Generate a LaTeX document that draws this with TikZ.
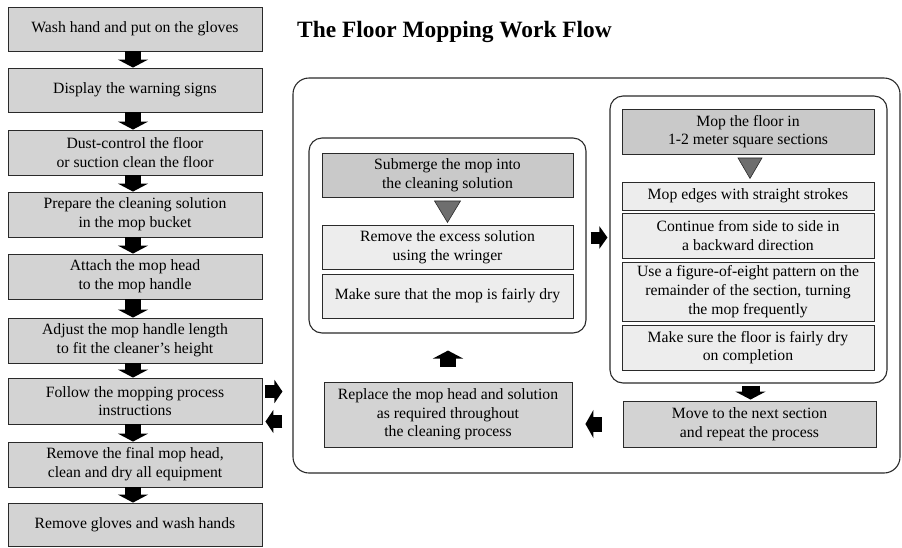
\documentclass[tikz,border=0pt]{standalone}
\usepackage{fontspec}
\setmainfont{Liberation Serif}
\usetikzlibrary{arrows.meta,calc}
\definecolor{gmid}{HTML}{D3D3D3}
\definecolor{gdark}{HTML}{C9C9C9}
\definecolor{glight}{HTML}{EDEDED}
\definecolor{gtri}{HTML}{6E6E6E}
\definecolor{edge}{HTML}{2A2A2A}
\begin{document}
\begin{tikzpicture}[x=1pt,y=-1pt,
  every node/.style={font=\fontsize{15.7}{18.7}\selectfont, align=center, inner sep=0pt},
  sbox/.style={draw=edge, line width=0.9pt, fill=gmid},
  dbox/.style={draw=edge, line width=0.9pt, fill=gdark},
  lbox/.style={draw=edge, line width=0.9pt, fill=glight},
  rbox/.style={draw=edge, line width=1.1pt, rounded corners=13pt},
  tri/.style={fill=gtri, draw=edge, line width=0.6pt},
  barrow/.style={draw=black, line width=16pt, -{Triangle[width=30pt,length=8pt]}},
  sarrow/.style={draw=black, line width=13pt, -{Triangle[width=23pt,length=8pt]}},
]
\useasboundingbox (0,0) rectangle (902,547);

% title
\node[font=\fontsize{23.4}{27}\selectfont\bfseries, anchor=base west] (title) at (297,37) {The Floor Mopping Work Flow};

% left column
\node[sbox, minimum width=254, minimum height=44] (b1) at (135,29) {Wash hand and put on the gloves};
\node[sbox, minimum width=254, minimum height=44] (b2) at (135,90) {Display the warning signs};
\node[sbox, minimum width=254, minimum height=45] (b3) at (135,152.5) {Dust-control the floor\\or suction clean the floor};
\node[sbox, minimum width=254, minimum height=45] (b4) at (135,214.5) {Prepare the cleaning solution\\in the mop bucket};
\node[sbox, minimum width=254, minimum height=45] (b5) at (135,276.5) {Attach the mop head\\to the mop handle};
\node[sbox, minimum width=254, minimum height=45] (b6) at (135,340.5) {Adjust the mop handle length\\to fit the cleaner’s height};
\node[sbox, minimum width=254, minimum height=46] (b7) at (135,401) {Follow the mopping process\\instructions};
\node[sbox, minimum width=254, minimum height=45] (b8) at (135,464.5) {Remove the final mop head,\\clean and dry all equipment};
\node[sbox, minimum width=254, minimum height=43] (b9) at (135,524.5) {Remove gloves and wash hands};

\foreach \a/\b in {b1/b2,b2/b3,b3/b4,b4/b5,b5/b6,b6/b7,b7/b8,b8/b9}{
  \draw[barrow] ([xshift=-2]\a.south) -- ([xshift=-2]\b.north);
}

% outer frame
\node[rbox, minimum width=607, minimum height=395, rounded corners=16pt] (outer) at (596.5,275.5) {};

% left inner group
\node[rbox, minimum width=277, minimum height=195] (linner) at (447.5,235.5) {};
\node[dbox, minimum width=251, minimum height=44] (sub) at (447.5,175) {Submerge the mop into\\the cleaning solution};
\node[lbox, minimum width=251, minimum height=44] (rem) at (447.5,247) {Remove the excess solution\\using the wringer};
\node[lbox, minimum width=251, minimum height=44] (dry) at (447.5,296) {Make sure that the mop is fairly dry};
\filldraw[tri] ($(sub.south)+(-13,3.5)$) -- ($(sub.south)+(13,3.5)$) -- ($(sub.south)+(0,25)$) -- cycle;

% right inner group
\node[rbox, minimum width=277, minimum height=287] (rinner) at (748.5,239.5) {};
\node[dbox, minimum width=252, minimum height=45] (mopf) at (748,131.5) {Mop the floor in\\1-2 meter square sections};
\node[lbox, minimum width=252, minimum height=28] (edges) at (748,196) {Mop edges with straight strokes};
\node[lbox, minimum width=252, minimum height=45] (cont) at (748,235.5) {Continue from side to side in\\a backward direction};
\node[lbox, minimum width=252, minimum height=59] (fig) at (748,291.5) {Use a figure-of-eight pattern on the\\remainder of the section, turning\\the mop frequently};
\node[lbox, minimum width=252, minimum height=45] (drf) at (748,347.5) {Make sure the floor is fairly dry\\on completion};
\filldraw[tri] ($(mopf.south)+(-10,3.5)$) -- ($(mopf.south)+(14,3.5)$) -- ($(mopf.south)+(2,24)$) -- cycle;

% bottom row
\node[sbox, minimum width=253, minimum height=46] (move) at (749.5,424) {Move to the next section\\and repeat the process};
\node[sbox, minimum width=248, minimum height=65] (repl) at (448,414.5) {Replace the mop head and solution\\as required throughout\\the cleaning process};

% block arrows in the frame
\draw[sarrow, line width=12pt, -{Triangle[width=22pt,length=8pt]}] ($(linner.east)+(4,2)$) -- ($(rinner.west |- linner.east)+(-2,2)$);
\draw[barrow, line width=18pt, shorten <=2pt, shorten >=1pt] ([xshift=2]rinner.south) -- ([xshift=2]rinner.south |- move.north);
\draw[barrow, line width=15pt, -{Triangle[width=28pt,length=8pt]}, shorten <=21pt, shorten >=13pt] (move.west) -- (move.west -| repl.east);
\draw[barrow, shorten <=15pt, shorten >=17pt] (repl.north) -- (repl.north |- linner.south);

% arrows between column and frame
\draw[sarrow] ($(b7.east)+(3,-9.5)$) -- ($(outer.west |- b7.east)+(-10,-9.5)$);
\draw[sarrow] ($(outer.west |- b7.east)+(-10,20.5)$) -- ($(b7.east)+(3,20.5)$);
\end{tikzpicture}
\end{document}
